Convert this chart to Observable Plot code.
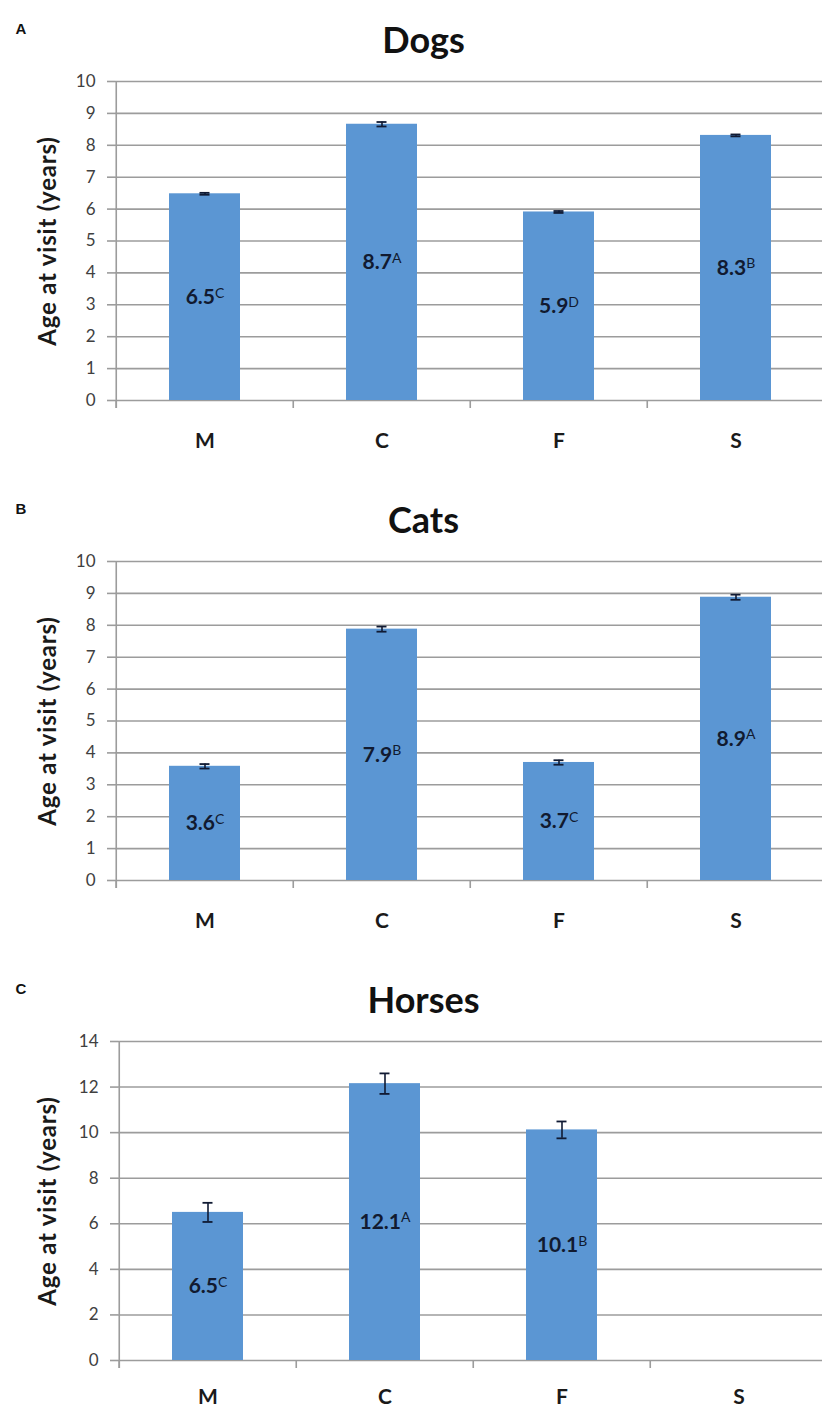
<!DOCTYPE html>
<html>
<head>
<meta charset="utf-8">
<script src="https://cdn.jsdelivr.net/npm/d3@7"></script>
<script src="https://cdn.jsdelivr.net/npm/@observablehq/plot@0.6"></script>
<style>
  html, body { margin: 0; padding: 0; background: #fff; }
  svg { display: block; }
  .ylab text { letter-spacing: 0.8px; }
</style>
</head>
<body>
<div id="chart"></div>
<script>
// ---- Data ----
const categories = ["M", "C", "F", "S"];

const dogsValues  = [6.48, 8.66, 5.91, 8.31];
const dogsErrors  = [0.03, 0.07, 0.03, 0.03];
const dogsLabels  = ["6.5", "8.7", "5.9", "8.3"];
const dogsLetters = ["C", "A", "D", "B"];

const catsValues  = [3.58, 7.88, 3.70, 8.88];
const catsErrors  = [0.07, 0.08, 0.07, 0.08];
const catsLabels  = ["3.6", "7.9", "3.7", "8.9"];
const catsLetters = ["C", "B", "C", "A"];

const horsesValues  = [6.50, 12.15, 10.12, null];
const horsesErrors  = [0.42, 0.45, 0.37, null];
const horsesLabels  = ["6.5", "12.1", "10.1", ""];
const horsesLetters = ["C", "A", "B", ""];

const yTicks10 = [0, 1, 2, 3, 4, 5, 6, 7, 8, 9, 10];
const yTicks14 = [0, 2, 4, 6, 8, 10, 12, 14];

const panelLetters = ["A", "B", "C"];
const panelTitles = ["Dogs", "Cats", "Horses"];
const yLabel = "Age at visit (years)";

// ---- Styles ----
const barColor = "#5B96D3";
const gridColor = "#9c9c9c";
const errColor = "#101a33";
const font = "Lato, 'Open Sans', sans-serif";

function rows(values, errors, labels, letters) {
  return categories.map((c, i) => ({cat: c, v: values[i], e: errors[i], label: labels[i], sup: letters[i]}))
    .filter(d => d.v != null);
}

function panel({letter, title, data, yMax, ticks, height, left, catPad}) {
  const right = left + 710;
  const step = (right - left) / categories.length;
  const chart = Plot.plot({
    width: 822,
    height,
    marginLeft: left,
    marginRight: 0,
    marginTop: 81,
    marginBottom: height === 480 ? 80 : 49,
    style: {fontFamily: font, background: "#fff"},
    x: {domain: categories, range: [left, right], paddingInner: 0.6, paddingOuter: 0.3, axis: null},
    y: {domain: [0, yMax], axis: null},
    marks: [
      Plot.ruleY(ticks, {stroke: gridColor, strokeWidth: 1.6}),
      Plot.axisY({ticks, tickSize: 8, tickPadding: 12, fontSize: 17, stroke: gridColor, strokeWidth: 1.6, fill: "#404040", label: null}),
      Plot.ruleX(["M"], {x: d => d, dx: -step / 2, stroke: gridColor, strokeWidth: 1.6, insetBottom: -8}),
      Plot.axisX({tickSize: 8, dx: -step / 2, tickFormat: () => "", stroke: gridColor, strokeWidth: 1.6, label: null}),
      Plot.axisX({tickSize: 0, tickPadding: catPad, fontSize: 21, fontWeight: "bold", fill: "#1a1a1a", label: null}),
      Plot.barY(data, {x: "cat", y: "v", fill: barColor}),
      Plot.ruleX(data, {x: "cat", y1: d => d.v - d.e, y2: d => d.v + d.e, stroke: errColor, strokeWidth: 1.6}),
      Plot.tickY(data, {x: "cat", y: d => d.v + d.e, stroke: errColor, strokeWidth: 1.8, insetLeft: 30.5, insetRight: 30.5}),
      Plot.tickY(data, {x: "cat", y: d => d.v - d.e, stroke: errColor, strokeWidth: 1.8, insetLeft: 30.5, insetRight: 30.5}),
      Plot.text(data, {x: "cat", y: d => d.v / 2, text: d => d.label + "|" + d.sup, className: "barlabel",
        fontSize: 21, fontWeight: "bold", fill: "#111a30"}),
      Plot.text([title], {text: d => d, frameAnchor: "top", textAnchor: "middle", dx: 423 - (left + 822) / 2, dy: -54,
        fontSize: 36, fontWeight: "bold", fill: "#111"}),
      Plot.text([letter], {text: d => d, frameAnchor: "top-left", dx: 15 - left, dy: -58, textAnchor: "start",
        fontSize: 15, fontWeight: "bold", fill: "#111", fontFamily: "'Liberation Sans', Arial, sans-serif"}),
      Plot.text([yLabel], {text: d => d, frameAnchor: "left", textAnchor: "middle", dx: 48 - left, rotate: -90,
        className: "ylab", fontSize: 24, fontWeight: "bold", fill: "#1a1a1a"})
    ]
  });
  // turn "6.5|C" into number + superscript letter
  d3.select(chart).selectAll(".barlabel text").each(function() {
    const [num, sup] = this.textContent.split("|");
    const t = d3.select(this);
    t.text(null);
    t.append("tspan").text(num);
    t.append("tspan").attr("dy", "-0.45em").attr("font-size", 14).attr("font-weight", "normal").text(sup);
  });
  return chart;
}

const container = document.getElementById("chart");
container.appendChild(panel({letter: panelLetters[0], title: panelTitles[0],
  data: rows(dogsValues, dogsErrors, dogsLabels, dogsLetters), yMax: 10, ticks: yTicks10, height: 480, left: 115, catPad: 33}));
container.appendChild(panel({letter: panelLetters[1], title: panelTitles[1],
  data: rows(catsValues, catsErrors, catsLabels, catsLetters), yMax: 10, ticks: yTicks10, height: 480, left: 115, catPad: 33}));
container.appendChild(panel({letter: panelLetters[2], title: panelTitles[2],
  data: rows(horsesValues, horsesErrors, horsesLabels, horsesLetters), yMax: 14, ticks: yTicks14, height: 449, left: 118, catPad: 29}));
</script>
</body>
</html>
